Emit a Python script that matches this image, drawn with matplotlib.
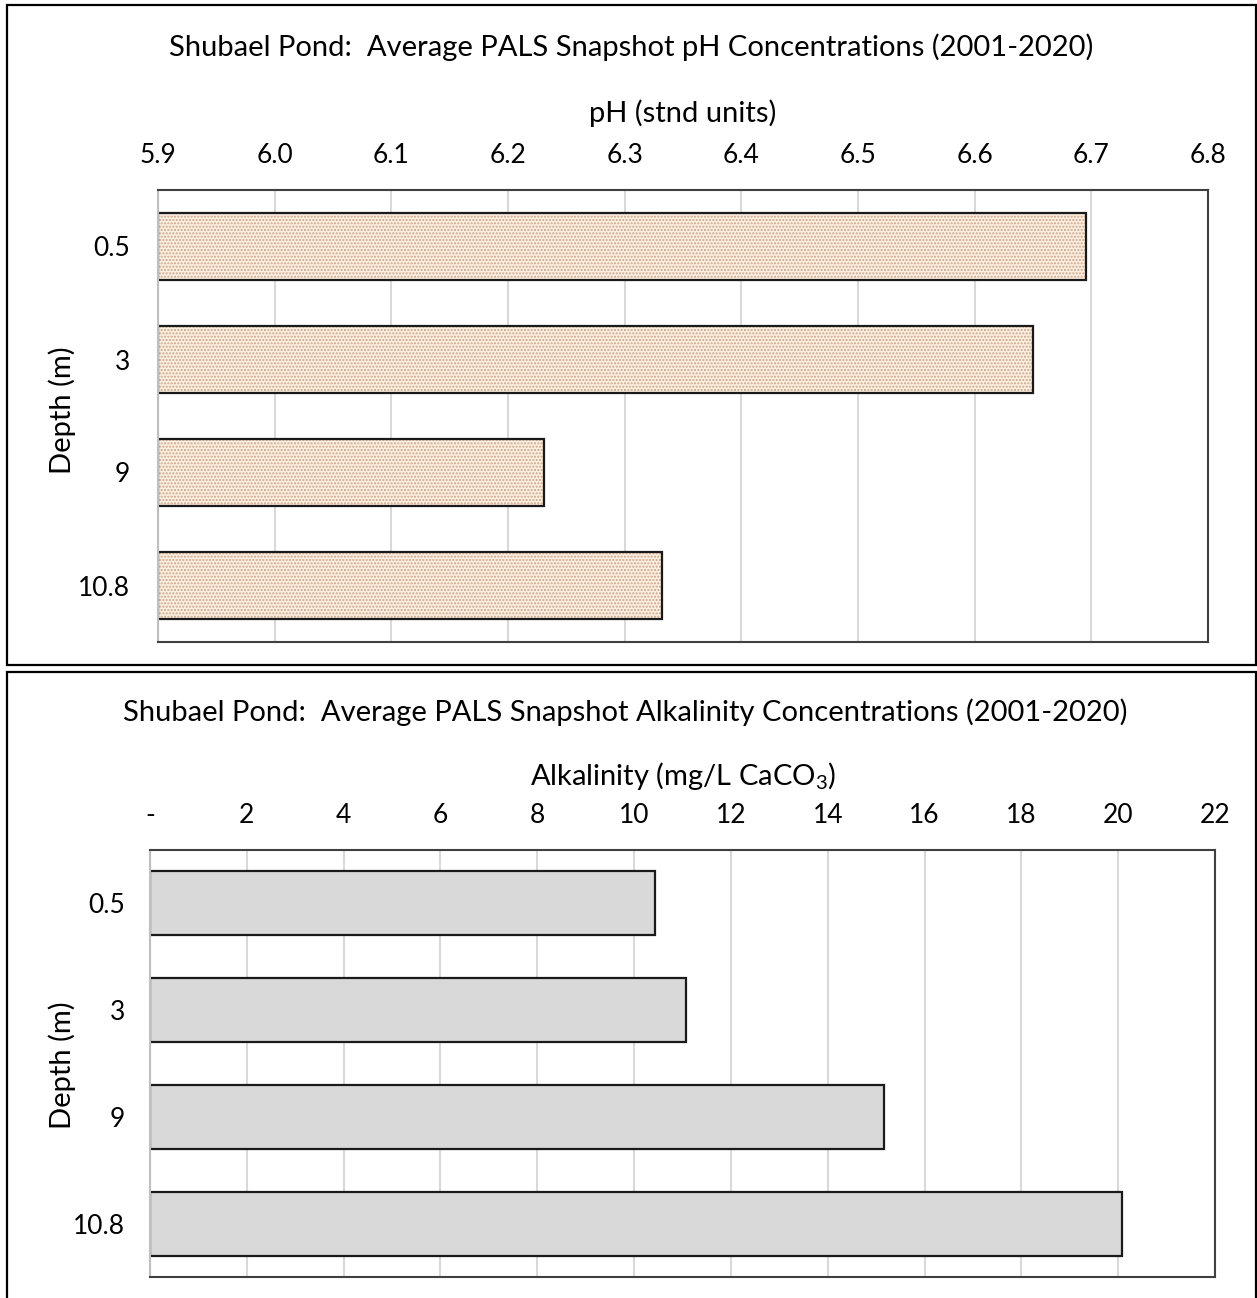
import numpy as np
import matplotlib.pyplot as plt
from matplotlib.patches import Rectangle

plt.rcParams['font.family'] = ['Lato', 'DejaVu Sans']
plt.rcParams['mathtext.fontset'] = 'custom'
plt.rcParams['mathtext.rm'] = 'Lato'

depths = ['0.5', '3', '9', '10.8']
ph_values = [6.695, 6.65, 6.231, 6.332]
alk_values = [10.43, 11.07, 15.17, 20.08]

ph_ticks = [5.9, 6.0, 6.1, 6.2, 6.3, 6.4, 6.5, 6.6, 6.7, 6.8]
alk_ticks = [0, 2, 4, 6, 8, 10, 12, 14, 16, 18, 20, 22]
alk_ticklabels = ['-'] + [str(t) for t in alk_ticks[1:]]

W, H = 1257, 1298
fig = plt.figure(figsize=(W / 100, H / 100), dpi=100)

def fx(px):
    return px / W

def fy(py):
    return 1 - py / H

TXT = 21
TICK = 19

# panel frames
for (x0, y0, x1, y1) in [(7, 5, 1256, 665), (7, 672, 1256, 1300)]:
    fig.patches.append(Rectangle((fx(x0), fy(y1)), fx(x1) - fx(x0), fy(y0) - fy(y1),
                                 transform=fig.transFigure, fill=False,
                                 edgecolor='black', linewidth=1.6))

def style_axes(ax, ypad):
    ax.xaxis.tick_top()
    ax.tick_params(axis='both', length=0, labelsize=TICK)
    ax.tick_params(axis='x', pad=16)
    ax.tick_params(axis='y', pad=ypad)
    ax.grid(axis='x', color='#d9d9d9', linewidth=1.5)
    ax.set_axisbelow(True)
    for s in ['top', 'right', 'bottom']:
        ax.spines[s].set_color('#404040')
        ax.spines[s].set_linewidth(1.5)
    ax.spines['left'].set_color('#bfbfbf')
    ax.spines['left'].set_linewidth(1.5)

y = np.arange(len(depths))

# pH panel
ax1 = fig.add_axes([fx(158), fy(642), fx(1208) - fx(158), fy(190) - fy(642)])
ax1.barh(y, np.array(ph_values) - 5.9, left=5.9, height=0.6, color='#fcefe0',
         hatch='.....', edgecolor='#c9a58a', linewidth=0)
ax1.barh(y, np.array(ph_values) - 5.9, left=5.9, height=0.6, fill=False,
         edgecolor='#1a1a1a', linewidth=1.6)
ax1.set_xlim(5.9, 6.8)
ax1.set_ylim(3.5, -0.5)
ax1.set_xticks(ph_ticks)
ax1.set_xticklabels([f'{t:.1f}' for t in ph_ticks])
ax1.set_yticks(y)
ax1.set_yticklabels(depths)
style_axes(ax1, 20)

fig.text(fx(631), fy(47), 'Shubael Pond:  Average PALS Snapshot pH Concentrations (2001-2020)',
         ha='center', va='center', fontsize=TXT)
fig.text(fx(683), fy(113), 'pH (stnd units)', ha='center', va='center', fontsize=TXT)
fig.text(fx(62), fy(410), 'Depth (m)', ha='center', va='center', rotation=90, fontsize=TXT)

# alkalinity panel
ax2 = fig.add_axes([fx(150), fy(1277), fx(1215) - fx(150), fy(850) - fy(1277)])
ax2.barh(y, alk_values, height=0.6, color='#d9d9d9', edgecolor='#1a1a1a', linewidth=1.6)
ax2.set_xlim(0, 22)
ax2.set_ylim(3.5, -0.5)
ax2.set_xticks(alk_ticks)
ax2.set_xticklabels(alk_ticklabels)
ax2.set_yticks(y)
ax2.set_yticklabels(depths)
style_axes(ax2, 18)

fig.text(fx(625), fy(712), 'Shubael Pond:  Average PALS Snapshot Alkalinity Concentrations (2001-2020)',
         ha='center', va='center', fontsize=TXT)
fig.text(fx(683), fy(776), r'Alkalinity (mg/L CaCO$_3$)', ha='center', va='center', fontsize=TXT)
fig.text(fx(62), fy(1065), 'Depth (m)', ha='center', va='center', rotation=90, fontsize=TXT)

fig.savefig('out.png', dpi=100)
